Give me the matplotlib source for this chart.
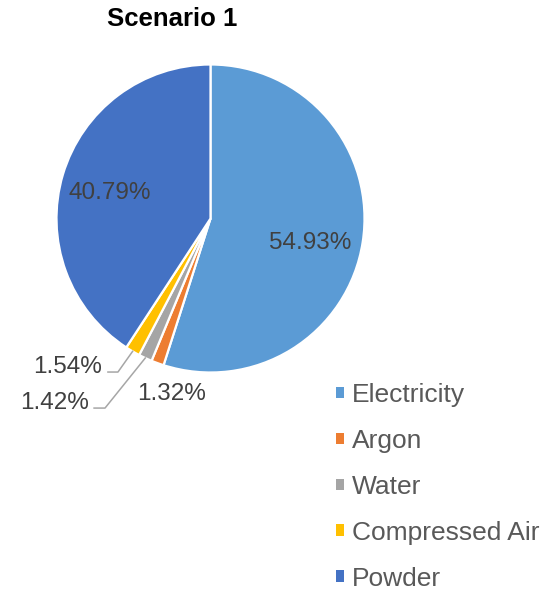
import numpy as np
import matplotlib
matplotlib.use("Agg")
from matplotlib import pyplot as plt
from matplotlib.patches import Patch

plt.rcParams['font.family'] = ['Liberation Sans', 'DejaVu Sans']

categories = ["Electricity", "Argon", "Water", "Compressed Air", "Powder"]
shares = [54.93, 1.32, 1.42, 1.54, 40.79]
colors = ["#5B9BD5", "#ED7D31", "#A5A5A5", "#FFC000", "#4472C4"]

W, H = 546, 590
fig = plt.figure(figsize=(W / 100, H / 100), dpi=100)

# pie geometry in pixels (from top-left)
cx, cy, r = 210.5, 218.5, 154
ax = fig.add_axes([(cx - r) / W, (H - cy - r) / H, 2 * r / W, 2 * r / H])

wedges, _ = ax.pie(shares, colors=colors, startangle=90, counterclock=False,
                   radius=1, wedgeprops=dict(edgecolor="white", linewidth=1.6))
ax.set_xlim(-1, 1)
ax.set_ylim(-1, 1)
ax.axis("off")

lbl_color = "#404040"
lead_color = "#A6A6A6"
fs = 17.5

def mid_angle(w):
    return np.deg2rad((w.theta1 + w.theta2) / 2)

# big wedges: labels inside (radius, angle tweak in degrees)
inside = {0: (0.665, -3.5), 4: (0.678, 0.8)}
for i, (rr, tweak) in inside.items():
    a = mid_angle(wedges[i]) + np.deg2rad(tweak)
    ax.text(rr * np.cos(a), rr * np.sin(a), "%.2f%%" % shares[i], ha="center",
            va="center_baseline", fontsize=fs, color=lbl_color)

# Argon: no leader
ax.text(-0.253, -1.123, "%.2f%%" % shares[1], ha="center", va="center_baseline",
        fontsize=fs, color=lbl_color, clip_on=False)

# Water and Compressed Air with leader lines
small = {2: ((-0.685, -1.231), (-0.756, -1.231), (-1.010, -1.179)),
         3: ((-0.601, -0.997), (-0.666, -0.997), (-0.925, -0.951))}
for i, (bend, end, txt) in small.items():
    a = mid_angle(wedges[i])
    ax.plot([np.cos(a), bend[0], end[0]], [np.sin(a), bend[1], end[1]],
            color=lead_color, linewidth=1.1, clip_on=False)
    ax.text(txt[0], txt[1], "%.2f%%" % shares[i], ha="center", va="center_baseline",
            fontsize=fs, color=lbl_color, clip_on=False)

fig.text(172.5 / W, 1 - 19 / H, "Scenario 1", ha="center", va="center",
         fontsize=18.5, fontweight="bold", color="black")

handles = [Patch(facecolor=c, edgecolor="none") for c in colors]
leg = fig.legend(handles, categories, loc="upper left",
                 bbox_to_anchor=(336 / W, 1 - 383 / H), frameon=False,
                 fontsize=19, handlelength=0.3, handleheight=0.3,
                 handletextpad=0.3, labelspacing=0.83, borderpad=0,
                 borderaxespad=0)
for t in leg.get_texts():
    t.set_color("#595959")

fig.savefig("out.png", dpi=100)
